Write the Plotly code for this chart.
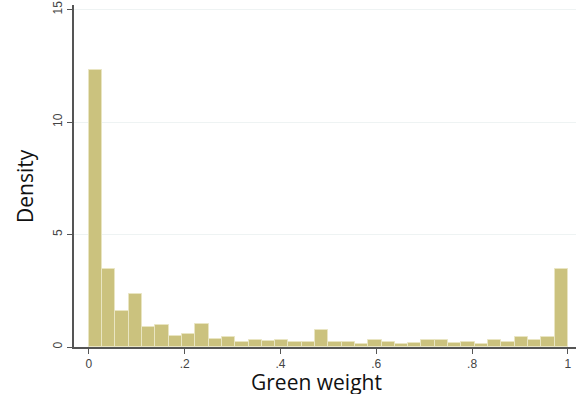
import plotly.graph_objects as go

n_bins = 36
bin_left = [i / n_bins for i in range(n_bins)]
density = [12.3, 3.45, 1.6, 2.37, 0.87, 0.97, 0.49, 0.6, 1.03, 0.37,
           0.43, 0.21, 0.33, 0.27, 0.33, 0.21, 0.21, 0.74, 0.24, 0.24,
           0.12, 0.3, 0.22, 0.12, 0.16, 0.3, 0.33, 0.16, 0.22, 0.12,
           0.3, 0.22, 0.43, 0.3, 0.43, 3.45]
x_ticks = [0, 0.2, 0.4, 0.6, 0.8, 1.0]
x_tick_labels = ["0", ".2", ".4", ".6", ".8", "1"]
y_ticks = [0, 5, 10, 15]
y_tick_labels = ["0", "5", "10", "15"]

centers = [b + 0.5 / n_bins for b in bin_left]

W, H = 576, 394
ML, MR, MT, MB = 74, 0, 5, 47
PH = H - MT - MB
PW = W - ML - MR

fig = go.Figure(go.Bar(
    x=centers, y=density, width=1 / n_bins,
    marker=dict(color="#CBC27E", line=dict(color="#E9E5C2", width=1)),
))

fig.update_layout(
    width=W, height=H,
    margin=dict(l=ML, r=MR, t=MT, b=MB, autoexpand=False),
    paper_bgcolor="white", plot_bgcolor="white",
    showlegend=False, bargap=0,
    font=dict(family="Liberation Sans, Arial", color="#444"),
)
fig.update_xaxes(
    range=[-0.031, 1.017], tickvals=x_ticks, ticktext=x_tick_labels,
    showline=True, linecolor="#555", linewidth=1.5,
    ticks="outside", ticklen=5, tickcolor="#555",
    showgrid=False, zeroline=False, automargin=False,
    ticklabeloverflow="allow",
    tickfont=dict(size=12, color="#444"),
)
fig.update_yaxes(
    range=[0, 15.2], tickvals=y_ticks, ticktext=y_tick_labels,
    showline=True, linecolor="#555", linewidth=1.5,
    ticks="outside", ticklen=5, tickcolor="#555", tickangle=-90,
    showgrid=True, gridcolor="#EEF3F3", gridwidth=1, zeroline=False,
    automargin=False, ticklabeloverflow="allow",
    tickfont=dict(size=12, color="#444"),
)

title_font = dict(family="Open Sans, Lato", size=21, color="#111")
fig.add_annotation(
    text="Green weight", xref="paper", yref="paper",
    x=(316 - ML) / PW, y=(MT + PH - 382) / PH,
    xanchor="center", yanchor="middle", showarrow=False, font=title_font,
)
fig.add_annotation(
    text="Density", xref="paper", yref="paper",
    x=(25 - ML) / PW, y=(MT + PH - 186) / PH, textangle=-90,
    xanchor="center", yanchor="middle", showarrow=False, font=title_font,
)

# remove the browser's default 8px body margin so the figure fills the window
fig.write_html(
    "out.html",
    config={"displayModeBar": False},
    post_script="document.body.style.margin='0px';",
)
